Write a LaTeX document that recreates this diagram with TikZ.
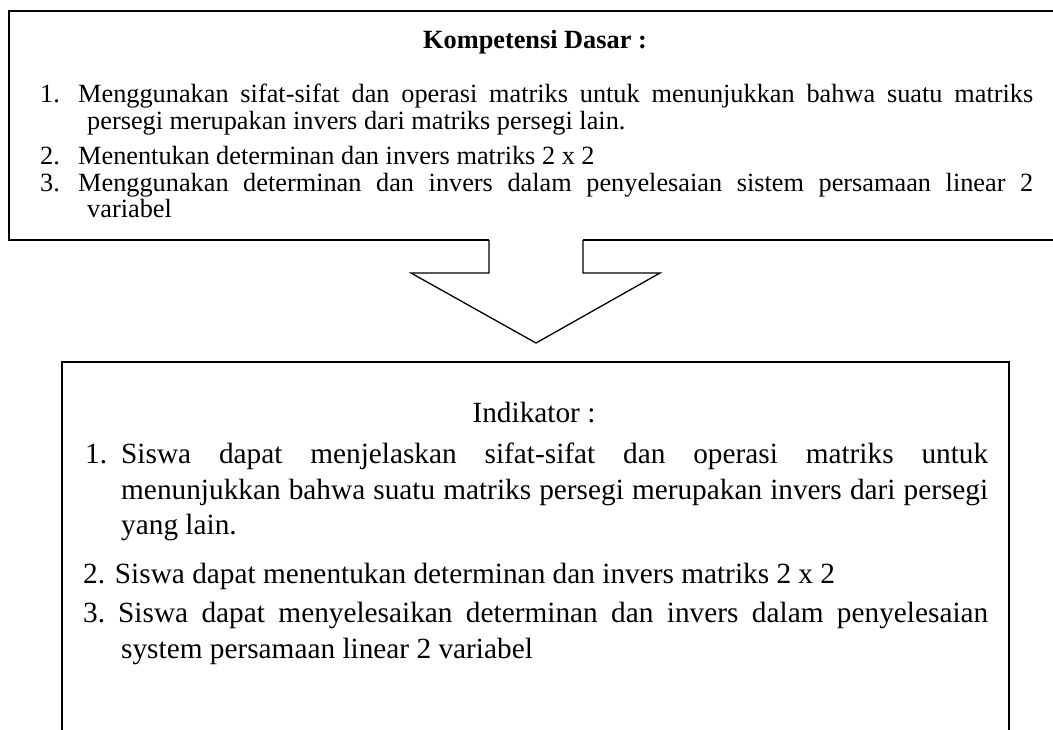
\documentclass[tikz,border=0pt]{standalone}
\usepackage{fontspec}
\setmainfont{Liberation Serif}
\begin{document}
\begin{tikzpicture}[x=1pt,y=-1pt,
  topfont/.style={font=\fontsize{26.3}{31}\selectfont},
  botfont/.style={font=\fontsize{29.3}{37}\selectfont},
  txt/.style={inner sep=0pt, anchor=base west},
  topframe/.style={draw=black, line width=2pt},
  botframe/.style={draw=black, line width=1.6pt},
  arrowline/.style={draw=black, line width=1.3pt, line join=miter}]
\useasboundingbox (0,0) rectangle (1053,729);
\clip (0,0) rectangle (1053,729);
\fill[white] (0,0) rectangle (1053,729);

% top box (open at the arrow shaft)
\coordinate (tbR) at (1060,11);
\coordinate (tbTL) at (9,11);
\coordinate (tbBL) at (9,240);
\coordinate (shL) at (489,240);
\coordinate (shR) at (583,240);
\coordinate (tbBR) at (1060,240);
\draw[topframe] (tbR) -- (tbTL) -- (tbBL) -- (shL);
\draw[topframe] (shR) -- (tbBR);

% block arrow
\coordinate (shLb) at (489,273);
\coordinate (wL) at (411,273);
\coordinate (tip) at (536,343);
\coordinate (wR) at (660,273);
\coordinate (shRb) at (583,273);
\draw[arrowline] (shL) -- (shLb) -- (wL) -- (tip) -- (wR) -- (shRb) -- (shR);

% bottom box
\coordinate (bbBL) at (62,735);
\coordinate (bbTL) at (62,362);
\coordinate (bbTR) at (1009,362);
\coordinate (bbBR) at (1009,735);
\draw[botframe] (bbBL) -- (bbTL) -- (bbTR) -- (bbBR);

% top box texts
\node[topfont, inner sep=0pt, anchor=base] (kdtitle) at (535,48) {\bfseries Kompetensi Dasar :};
\node[topfont, txt] (k1n) at (40,102.5) {1.};
\node[topfont, txt] (k1a) at (78,102.5) {\makebox[955pt][s]{Menggunakan sifat-sifat dan operasi matriks untuk menunjukkan bahwa suatu matriks}};
\node[topfont, txt] (k1b) at (87,129.5) {persegi merupakan invers dari matriks persegi lain.};
\node[topfont, txt] (k2n) at (40,164.5) {2.};
\node[topfont, txt] (k2a) at (78,164.5) {Menentukan determinan dan invers matriks 2 x 2};
\node[topfont, txt] (k3n) at (40,191.5) {3.};
\node[topfont, txt] (k3a) at (78,191.5) {\makebox[955pt][s]{Menggunakan determinan dan invers dalam penyelesaian sistem persamaan linear 2}};
\node[topfont, txt] (k3b) at (87,217.5) {variabel};

% bottom box texts
\node[botfont, inner sep=0pt, anchor=base] (intitle) at (534,422) {Indikator :};
\node[botfont, txt] (i1n) at (85,463) {1.};
\node[botfont, txt] (i1a) at (121,463) {\makebox[867pt][s]{Siswa dapat menjelaskan sifat-sifat dan operasi matriks untuk}};
\node[botfont, txt] (i1b) at (121,499) {\makebox[867pt][s]{menunjukkan bahwa suatu matriks persegi merupakan invers dari persegi}};
\node[botfont, txt] (i1c) at (121,534) {yang lain.};
\node[botfont, txt] (i2a) at (83,583) {2. Siswa dapat menentukan determinan dan invers matriks 2 x 2};
\node[botfont, txt] (i3n) at (83,622) {3.};
\node[botfont, txt] (i3a) at (118,622) {\makebox[870pt][s]{Siswa dapat menyelesaikan determinan dan invers dalam penyelesaian}};
\node[botfont, txt] (i3b) at (121,658) {system persamaan linear 2 variabel};
\end{tikzpicture}
\end{document}
